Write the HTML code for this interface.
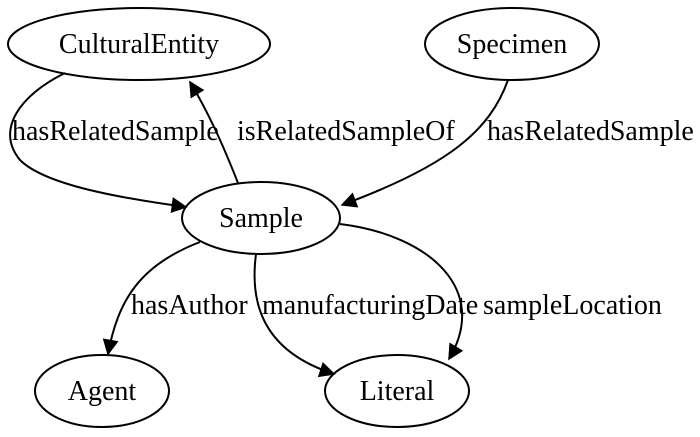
<!DOCTYPE html>
<html><head><meta charset="utf-8"><style>
html,body{margin:0;padding:0;background:#fff;}
svg{display:block;}
text{font-family:"Liberation Serif",serif;font-size:28px;fill:#000;}
</style></head><body>
<svg width="700" height="437" viewBox="0 0 700 437" xmlns="http://www.w3.org/2000/svg">
<defs>
<marker id="b" viewBox="0 0 10 10" markerWidth="22" markerHeight="16" refX="9" refY="5" orient="auto" markerUnits="userSpaceOnUse"><path d="M0,0 L10,5 L0,10 Z" fill="#000"/></marker></defs>
<g fill="none" stroke="#000" stroke-width="2">
<ellipse cx="139" cy="44" rx="131" ry="36"/>
<ellipse cx="512" cy="44" rx="87" ry="36"/>
<ellipse cx="261" cy="218" rx="79" ry="36"/>
<ellipse cx="102" cy="391" rx="67" ry="36"/>
<ellipse cx="397" cy="391" rx="72" ry="36"/>
<path d="M65,73 C20,95 -5,130 20,160 C45,185 120,198 186,207" marker-end="url(#b)"/>
<path d="M238,183 C225,150 210,115 190,82" marker-end="url(#b)"/>
<path d="M508,80 C490,130 450,165 342,205" marker-end="url(#b)"/>
<path d="M200,242 C140,265 118,300 108,354" marker-end="url(#b)"/>
<path d="M256,254 C250,300 260,350 334,374" marker-end="url(#b)"/>
<path d="M340,224 C430,235 490,290 449,359" marker-end="url(#b)"/>
</g>
<text x="139" y="53" text-anchor="middle">CulturalEntity</text>
<text x="512" y="53" text-anchor="middle">Specimen</text>
<text x="261" y="227" text-anchor="middle">Sample</text>
<text x="102" y="400" text-anchor="middle">Agent</text>
<text x="397" y="400" text-anchor="middle">Literal</text>
<text x="12" y="140">hasRelatedSample</text>
<text x="237" y="140">isRelatedSampleOf</text>
<text x="487" y="140">hasRelatedSample</text>
<text x="131" y="314">hasAuthor</text>
<text x="262" y="314">manufacturingDate</text>
<text x="483" y="314">sampleLocation</text>
</svg>
</body></html>
